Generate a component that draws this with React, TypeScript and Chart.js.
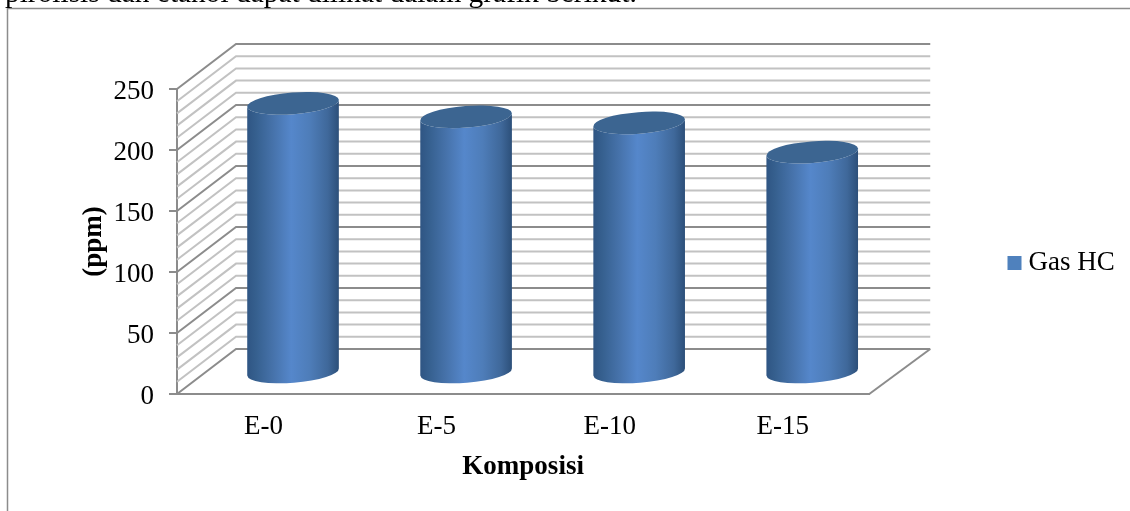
import React, { useEffect, useRef } from "react";
import { Chart, registerables } from "chart.js";

Chart.register(...registerables);

const categories = ["E-0", "E-5", "E-10", "E-15"];
const gasHc = [221, 210, 205, 181];
const seriesName = "Gas HC";
const wallSteps = [0, 10, 20, 30, 40, 50, 60, 70, 80, 90, 100, 110, 120, 130, 140, 150, 160, 170, 180, 190, 200, 210, 220, 230, 240, 250];
const paragraphTail = "pirolisis dan etanol dapat dilihat dalam grafik berikut.";

const SERIF = '"Liberation Serif", serif';
const DEPTH_X = 60;
const DEPTH_Y = -45;
const MAJOR = "#8c8c8c";
const MINOR = "#c2c2c2";

// Page frame and the clipped line of body text behind the chart.
const pageFrame = {
  id: "pageFrame",
  beforeDraw(chart: any) {
    const { ctx, width, height } = chart;
    ctx.save();
    ctx.fillStyle = "#ffffff";
    ctx.fillRect(0, 0, width, height);
    ctx.strokeStyle = "#8c8c8c";
    ctx.lineWidth = 1.5;
    ctx.beginPath();
    ctx.moveTo(7.5, height);
    ctx.lineTo(7.5, 8.5);
    ctx.lineTo(width, 8.5);
    ctx.stroke();
    ctx.fillStyle = "#000000";
    ctx.font = `29.4px ${SERIF}`;
    ctx.textBaseline = "alphabetic";
    ctx.fillText(paragraphTail, 5, 1.5);
    ctx.restore();
  },
};

// Side wall, back wall and floor of the 3D box, hung off the value scale.
const box3d = {
  id: "box3d",
  beforeDatasetsDraw(chart: any) {
    const { ctx, chartArea, scales } = chart;
    const { left, right, bottom } = chartArea;
    const y = scales.y;
    ctx.save();
    ctx.lineCap = "butt";
    for (const v of wallSteps) {
      const py = y.getPixelForValue(v);
      const major = v % 50 === 0;
      ctx.strokeStyle = major ? MAJOR : MINOR;
      ctx.lineWidth = 2;
      ctx.beginPath();
      ctx.moveTo(left, py);
      ctx.lineTo(left + DEPTH_X - 1, py + DEPTH_Y);
      ctx.lineTo(right + DEPTH_X + 1, py + DEPTH_Y);
      ctx.stroke();
    }
    ctx.strokeStyle = MAJOR;
    ctx.lineWidth = 2;
    ctx.beginPath();
    ctx.moveTo(right, bottom);
    ctx.lineTo(right + DEPTH_X + 1, bottom + DEPTH_Y);
    ctx.stroke();
    ctx.restore();
  },
};

// Replaces the flat bars with shaded cylinders standing in the middle of the box.
const cylinders = {
  id: "cylinders",
  beforeDatasetDraw(chart: any, args: any) {
    const { ctx } = chart;
    const dx = 29.5;
    const dy = DEPTH_Y / 2 + 1.5;
    const tilt = -0.078;
    args.meta.data.forEach((bar: any) => {
      const rx = bar.width / 2;
      const ry = rx * 0.235;
      const cx = bar.x + dx;
      const topY = bar.y + dy;
      const baseY = bar.base + dy;
      const ex = rx * Math.cos(tilt);
      const ey = rx * Math.sin(tilt);

      const shade = ctx.createLinearGradient(cx - rx, 0, cx + rx, 0);
      shade.addColorStop(0, "#2f5583");
      shade.addColorStop(0.1, "#36608f");
      shade.addColorStop(0.28, "#4672aa");
      shade.addColorStop(0.48, "#5587cb");
      shade.addColorStop(0.68, "#4e7db9");
      shade.addColorStop(0.88, "#3f689a");
      shade.addColorStop(1, "#2c4f79");

      ctx.save();
      ctx.fillStyle = shade;
      ctx.beginPath();
      ctx.moveTo(cx - ex, topY - ey);
      ctx.lineTo(cx - ex, baseY - ey);
      ctx.ellipse(cx, baseY, rx, ry, tilt, Math.PI, 0, true);
      ctx.lineTo(cx + ex, topY + ey);
      ctx.ellipse(cx, topY, rx, ry, tilt, 0, Math.PI, false);
      ctx.closePath();
      ctx.fill();

      ctx.fillStyle = "#3c6591";
      ctx.beginPath();
      ctx.ellipse(cx, topY, rx, ry, tilt, 0, Math.PI * 2);
      ctx.fill();
      ctx.restore();
    });
    return false;
  },
};

// Lifts the legend out of its layout box to sit beside the plot.
const legendPlacement = {
  id: "legendPlacement",
  afterLayout(chart: any) {
    const legend = chart.legend;
    const w = legend.right - legend.left;
    legend.left = 1004;
    legend.right = 1004 + w;
    legend.top -= 37;
    legend.bottom -= 37;
  },
};

export default function App() {
  const ref = useRef<HTMLCanvasElement>(null);

  useEffect(() => {
    const chart = new Chart(ref.current as HTMLCanvasElement, {
      type: "bar",
      data: {
        labels: categories,
        datasets: [
          {
            label: seriesName,
            data: gasHc,
            backgroundColor: "#4f81bd",
            categoryPercentage: 1,
            barPercentage: 0.531,
          },
        ],
      },
      options: {
        responsive: false,
        animation: false,
        layout: { padding: { top: 89, right: 140, bottom: 0, left: 0 } },
        plugins: {
          title: { display: false },
          tooltip: { enabled: false },
          legend: {
            position: "right",
            labels: {
              usePointStyle: true,
              pointStyle: "rect",
              boxWidth: 1,
              boxHeight: 14,
              padding: 10,
              color: "#000000",
              font: { family: SERIF, size: 27 },
            },
          },
        },
        scales: {
          x: {
            afterFit(scale: any) {
              scale.height = 117;
            },
            grid: { display: false },
            border: { display: true, color: MAJOR, width: 2 },
            ticks: { color: "#000000", padding: 9, font: { family: SERIF, size: 27 } },
            title: {
              display: true,
              text: "Komposisi",
              color: "#000000",
              font: { family: SERIF, size: 27, weight: "bold" },
              padding: { top: 12, bottom: 28 },
            },
          },
          y: {
            min: 0,
            max: 250,
            afterFit(scale: any) {
              scale.width = 177;
            },
            grid: { drawOnChartArea: false, drawTicks: true, tickLength: 8, color: MAJOR, lineWidth: 2 },
            border: { display: true, color: MAJOR, width: 2 },
            ticks: { stepSize: 50, color: "#000000", padding: 15, labelOffset: 3, font: { family: SERIF, size: 27 } },
            title: {
              display: true,
              text: "(ppm)",
              color: "#000000",
              font: { family: SERIF, size: 27, weight: "bold" },
              padding: { top: 78, bottom: 0 },
            },
          },
        },
      },
      plugins: [pageFrame, box3d, cylinders, legendPlacement],
    } as any);
    return () => chart.destroy();
  }, []);

  return (
    <div style={{ position: "fixed", left: 0, top: 0 }}>
      <canvas ref={ref} width={1130} height={511} style={{ display: "block" }} />
    </div>
  );
}
